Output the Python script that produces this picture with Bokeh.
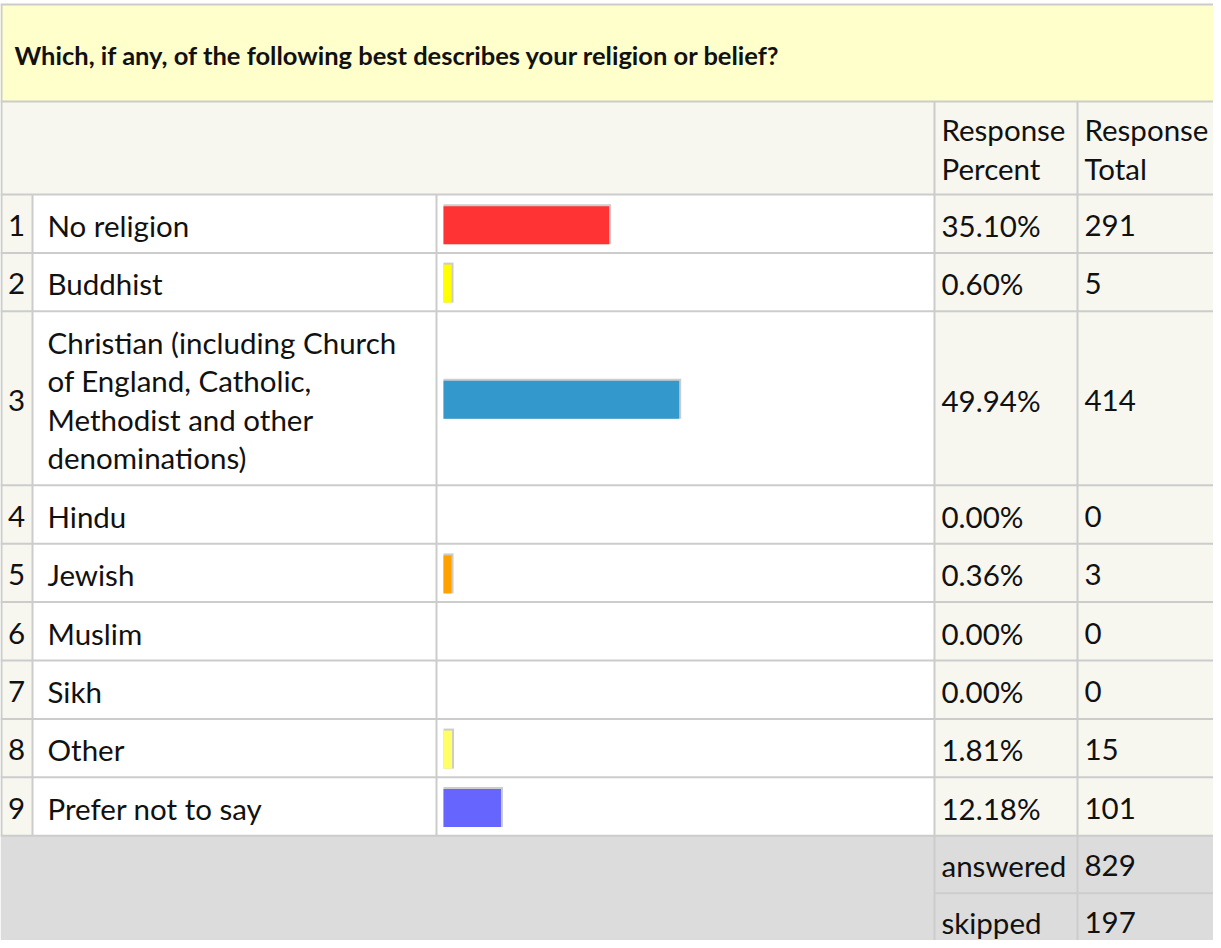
from bokeh.plotting import figure
from bokeh.models import Range1d, ColumnDataSource
from bokeh.core.properties import value
from bokeh.embed import file_html
from bokeh.resources import INLINE

# ---------------- data ----------------
question = "Which, if any, of the following best describes your religion or belief?"
row_numbers = ["1", "2", "3", "4", "5", "6", "7", "8", "9"]
options = [
    "No religion",
    "Buddhist",
    "Christian (including Church\nof England, Catholic,\nMethodist and other\ndenominations)",
    "Hindu",
    "Jewish",
    "Muslim",
    "Sikh",
    "Other",
    "Prefer not to say",
]
response_percent = [35.10, 0.60, 49.94, 0.00, 0.36, 0.00, 0.00, 1.81, 12.18]
response_total = [291, 5, 414, 0, 3, 0, 0, 15, 101]
bar_colors = ["#ff3333", "#ffff00", "#3399cc", "#66cc66", "#ffa200",
              "#cc66cc", "#66cccc", "#ffff66", "#6666ff"]
header_percent = ["Response", "Percent"]
header_total = ["Response", "Total"]
summary_labels = ["answered", "skipped"]
summary_values = [829, 197]

# ---------------- layout (page pixels) ----------------
W, H = 1213, 940
X0, X1 = 8, 8 + W
Y0, Y1 = 8, 8 + H
GRID = "#cccccc"
BEIGE = "#f7f7f0"
TITLE_BG = "#ffffcc"
FOOT_BG = "#dcdcdc"
TXT = "#111111"
FONT = value("Lato")
FS = "29.5px"

col_num_r = 40
col_lab_r = 444
col_bar_r = 942
col_pct_r = 1085
bar_start = 451
px_per_pct = 4.72
min_bar_pct = 1.7

title_top, title_bot = 12, 109
head_bot = 202
line_h = 38.53
pad = 19.87
mid_off = 31.0   # first text line centre below row top

p = figure(width=W, height=H, output_backend="svg", toolbar_location=None,
           x_range=Range1d(X0, X1), y_range=Range1d(Y1, Y0),
           min_border=0, outline_line_color=None, background_fill_color="white",
           border_fill_color="white")
p.axis.visible = False
p.xgrid.visible = False
p.ygrid.visible = False
p.extra_x_ranges = {"pct": Range1d((X0 - bar_start) / px_per_pct, (X1 - bar_start) / px_per_pct)}

# row geometry
row_tops, row_bots = [], []
y = head_bot
for lab in options:
    n = len(lab.split("\n"))
    h = pad + n * line_h
    row_tops.append(y)
    row_bots.append(y + h)
    y += h
foot_top = y
foot_mid = foot_top + 57.5

# backgrounds
p.quad(left=[X0], right=[X1], top=[title_top], bottom=[title_bot], fill_color=TITLE_BG, line_color=None)
p.quad(left=[X0], right=[X1], top=[title_bot], bottom=[head_bot], fill_color=BEIGE, line_color=None)
p.quad(left=[X0, col_num_r, col_bar_r], right=[col_num_r, col_bar_r, X1],
       top=[head_bot] * 3, bottom=[foot_top] * 3,
       fill_color=[BEIGE, "white", BEIGE], line_color=None)
p.quad(left=[X0], right=[X1], top=[foot_top], bottom=[Y1], fill_color=FOOT_BG, line_color=None)

# grid lines
xs0, xs1, ys0, ys1 = [], [], [], []
def seg(a, b, c, d):
    xs0.append(a); ys0.append(b); xs1.append(c); ys1.append(d)
seg(X0, title_top, X1, title_top)
seg(X0, title_bot, X1, title_bot)
seg(X0 + 1, title_top, X0 + 1, foot_top)
for yy in [head_bot] + row_bots:
    seg(X0, yy, X1, yy)
for xx in [col_num_r, col_lab_r]:
    seg(xx, head_bot, xx, foot_top)
for xx in [col_bar_r, col_pct_r]:
    seg(xx, title_bot, xx, foot_top)
p.segment(x0=xs0, y0=ys0, x1=xs1, y1=ys1, line_color=GRID, line_width=2)
# footer lines
p.segment(x0=[col_bar_r, col_pct_r, col_bar_r], y0=[foot_top, foot_top, foot_mid],
          x1=[col_bar_r, col_pct_r, X1], y1=[Y1, Y1, foot_mid],
          line_color="#cdcdcd", line_width=2)

# bars (percent scale)
bl, br, bt, bb, bc = [], [], [], [], []
for i, v in enumerate(response_percent):
    if v <= 0:
        continue
    c = (row_tops[i] + row_bots[i]) / 2 + 1.5
    bl.append(0)
    br.append(max(v, min_bar_pct))
    bt.append(c - 19)
    bb.append(c + 19)
    bc.append(bar_colors[i])
shadow = ColumnDataSource(dict(left=bl, right=[r + 2 / px_per_pct for r in br],
                               top=[t - 2 for t in bt], bottom=bb))
p.quad(left="left", right="right", top="top", bottom="bottom", source=shadow,
       fill_color=GRID, line_color=None, x_range_name="pct")
bars = ColumnDataSource(dict(left=bl, right=br, top=bt, bottom=bb, color=bc))
p.quad(left="left", right="right", top="top", bottom="bottom", source=bars,
       fill_color="color", line_color=None, x_range_name="pct")

# texts
lx, ly, lt = [], [], []        # left aligned texts
nx, ny, nt = [], [], []        # centred row numbers
for i in range(len(options)):
    lines = options[i].split("\n")
    n = len(lines)
    for j, ln in enumerate(lines):
        lx.append(55); ly.append(row_tops[i] + mid_off + j * line_h); lt.append(ln)
    mid = row_tops[i] + mid_off + (n - 1) * line_h / 2
    nx.append(24); ny.append(mid); nt.append(row_numbers[i])
    lx.append(949); ly.append(mid); lt.append(f"{response_percent[i]:.2f}%")
    lx.append(1092); ly.append(mid); lt.append(str(response_total[i]))
for j, ln in enumerate(header_percent):
    lx.append(949); ly.append(title_bot + 28 + j * 39); lt.append(ln)
for j, ln in enumerate(header_total):
    lx.append(1092); ly.append(title_bot + 28 + j * 39); lt.append(ln)
for j, (lab, v) in enumerate(zip(summary_labels, summary_values)):
    yy = foot_top + 30 + j * 57
    lx.append(949); ly.append(yy); lt.append(lab)
    lx.append(1092); ly.append(yy); lt.append(str(v))

src = ColumnDataSource(dict(x=lx, y=ly, t=lt))
p.text(x="x", y="y", text="t", source=src, text_font=FONT, text_font_size=FS,
       text_color=TXT, text_baseline="middle", text_align="left")
num_src = ColumnDataSource(dict(x=nx, y=ny, t=nt))
p.text(x="x", y="y", text="t", source=num_src, text_font=FONT, text_font_size=FS,
       text_color=TXT, text_baseline="middle", text_align="center")
p.text(x=[22], y=[62], text=[question], text_font=FONT, text_font_size="25.5px",
       text_font_style="bold", text_color=TXT, text_baseline="middle")

open("out.html", "w").write(file_html(p, INLINE))
